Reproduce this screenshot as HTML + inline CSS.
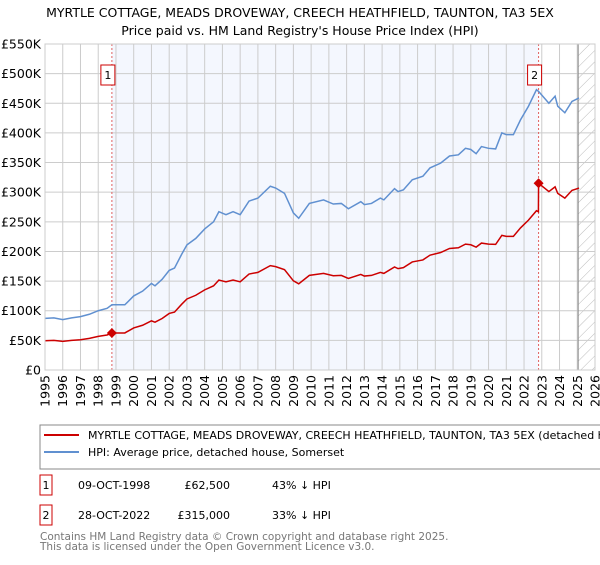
<!DOCTYPE html>
<html><head><meta charset="utf-8"><style>
body{margin:0;background:#fff;font-family:"Liberation Sans","DejaVu Sans",sans-serif;}
svg text{font-family:"DejaVu Sans","Liberation Sans",sans-serif;}
</style></head><body>
<svg id="c" width="600" height="560" xmlns="http://www.w3.org/2000/svg">
<defs><pattern id="hatch" width="8" height="8" patternUnits="userSpaceOnUse" patternTransform="rotate(45)"><line x1="0" y1="0" x2="0" y2="8" stroke="#bbb" stroke-width="1"/></pattern></defs>
<text x="300" y="17" text-anchor="middle" font-size="12.5">MYRTLE COTTAGE, MEADS DROVEWAY, CREECH HEATHFIELD, TAUNTON, TA3 5EX</text>
<text x="300" y="35" text-anchor="middle" font-size="12.5">Price paid vs. HM Land Registry's House Price Index (HPI)</text>
<g id="plot"></g>
<rect x="40" y="425" width="570" height="44" fill="#fff" stroke="#888"/>
<line x1="44" y1="435" x2="79" y2="435" stroke="#cc0000" stroke-width="2"/>
<text x="88" y="439" font-size="11">MYRTLE COTTAGE, MEADS DROVEWAY, CREECH HEATHFIELD, TAUNTON, TA3 5EX (detached house)</text>
<line x1="44" y1="452" x2="79" y2="452" stroke="#6090d0" stroke-width="2"/>
<text x="88" y="456" font-size="11">HPI: Average price, detached house, Somerset</text>
<rect x="40" y="475" width="12" height="20" fill="#fff" stroke="#cc0000"/>
<text x="46" y="489" text-anchor="middle" font-size="11">1</text>
<text x="78" y="489" font-size="11">09-OCT-1998</text>
<text x="230" y="489" text-anchor="end" font-size="11">£62,500</text>
<text x="272" y="489" font-size="11">43% ↓ HPI</text>
<rect x="40" y="505" width="12" height="20" fill="#fff" stroke="#cc0000"/>
<text x="46" y="519" text-anchor="middle" font-size="11">2</text>
<text x="78" y="519" font-size="11">28-OCT-2022</text>
<text x="230" y="519" text-anchor="end" font-size="11">£315,000</text>
<text x="272" y="519" font-size="11">33% ↓ HPI</text>
<text x="40" y="540" font-size="10.5" fill="#777">Contains HM Land Registry data © Crown copyright and database right 2025.</text>
<text x="40" y="550" font-size="10.5" fill="#777">This data is licensed under the Open Government Licence v3.0.</text>
</svg>
<script>
const hpiYears=[1995.0,1995.5,1996.0,1996.5,1997.0,1997.5,1998.0,1998.5,1998.77,1999.5,2000.0,2000.5,2001.0,2001.2,2001.6,2002.0,2002.3,2002.7,2003.0,2003.5,2004.0,2004.5,2004.8,2005.2,2005.6,2006.0,2006.5,2007.0,2007.7,2008.0,2008.5,2009.0,2009.3,2009.9,2010.7,2011.25,2011.7,2012.1,2012.8,2013.0,2013.4,2013.9,2014.1,2014.7,2014.9,2015.2,2015.7,2016.3,2016.7,2017.3,2017.8,2018.3,2018.7,2019.0,2019.3,2019.6,2020.0,2020.4,2020.75,2021.0,2021.4,2021.8,2022.25,2022.7,2022.82,2023.4,2023.75,2023.9,2024.3,2024.7,2025.1];
const hpiValues=[87,88,85,88,90,94,100,104,110,110,125,133,146,142,153,168,172,195,211,222,238,250,267,262,267,262,285,290,310,307,298,265,256,281,287,280,281,272,284,279,281,290,287,306,301,304,321,327,341,349,361,363,374,372,365,377,374,373,400,397,397,422,445,473,470,450,462,445,434,453,459];
const redYears=[1995.0,1995.5,1996.0,1996.5,1997.0,1997.5,1998.0,1998.5,1998.77,1999.5,2000.0,2000.5,2001.0,2001.2,2001.6,2002.0,2002.3,2002.7,2003.0,2003.5,2004.0,2004.5,2004.8,2005.2,2005.6,2006.0,2006.5,2007.0,2007.7,2008.0,2008.5,2009.0,2009.3,2009.9,2010.7,2011.25,2011.7,2012.1,2012.8,2013.0,2013.4,2013.9,2014.1,2014.7,2014.9,2015.2,2015.7,2016.3,2016.7,2017.3,2017.8,2018.3,2018.7,2019.0,2019.3,2019.6,2020.0,2020.4,2020.75,2021.0,2021.4,2021.8,2022.25,2022.7,2022.81,2022.82,2023.4,2023.75,2023.9,2024.3,2024.7,2025.1];
const redValues=[49.4,50,48.3,50,51.1,53.4,56.8,59.1,62.5,62.5,71,75.5,82.9,80.7,86.9,95.4,97.7,110.8,119.8,126.1,135.2,142,151.7,148.8,151.7,148.8,161.9,164.7,176.1,174.4,169.3,150.5,145.4,159.6,163,159,159.6,154.5,161.3,158.5,159.6,164.7,163,173.8,171,172.7,182.3,185.7,193.7,198.2,205,206.2,212.4,211.3,207.3,214.1,212.4,211.9,227.2,225.5,225.5,239.7,252.8,268.7,267,315,301,309,298,290,303,307];
const saleYears=[1998.77,2022.82];
const salePrices=[62.5,315];
const saleLabels=["1","2"];
const yTicks=[0,50,100,150,200,250,300,350,400,450,500,550];
const yTickLabels=["£0","£50K","£100K","£150K","£200K","£250K","£300K","£350K","£400K","£450K","£500K","£550K"];
const xTicks=[1995,1996,1997,1998,1999,2000,2001,2002,2003,2004,2005,2006,2007,2008,2009,2010,2011,2012,2013,2014,2015,2016,2017,2018,2019,2020,2021,2022,2023,2024,2025,2026];
const forecastStart=2025.05;

const L=45,R=595,T=44,B=370;
const xs=y=>L+(y-1995)/31*(R-L);
const ys=v=>B-v/550*(B-T);
const NS="http://www.w3.org/2000/svg";
const g=document.getElementById('plot');
function mk(tag,at){const e=document.createElementNS(NS,tag);for(const k in at)e.setAttribute(k,at[k]);g.appendChild(e);return e;}
let e;
e=mk('rect',{x:L,y:T,width:R-L,height:B-T,fill:'#fff'});


e=mk('rect',{x:xs(saleYears[0]),y:T,width:xs(saleYears[1])-xs(saleYears[0]),height:B-T,fill:'#f4f7fe'});


e=mk('rect',{x:xs(forecastStart),y:T,width:R-xs(forecastStart),height:B-T,fill:'url(#hatch)'});


yTicks.forEach((v,i)=>{
 e=mk('line',{x1:L,x2:R,y1:ys(v),y2:ys(v),stroke:'#ccc','stroke-width':1});
 
 
 e=mk('text',{x:41,y:ys(v)+4.5,'text-anchor':'end','font-size':12.5});
 e.textContent=yTickLabels[i];
 
 
});
xTicks.forEach(y=>{
 e=mk('line',{x1:xs(y),x2:xs(y),y1:T,y2:B,stroke:'#ccc','stroke-width':1});
 
 
 e=mk('text',{x:0,y:0,'text-anchor':'end','font-size':12.5,transform:`translate(${xs(y)+4.5},375) rotate(-90)`});
 e.textContent=y;
 
 
});
e=mk('line',{x1:xs(forecastStart),x2:xs(forecastStart),y1:T,y2:B,stroke:'#888','stroke-width':1});


saleYears.forEach((y,i)=>{
 e=mk('line',{x1:xs(y),x2:xs(y),y1:T,y2:B,stroke:'#e06060','stroke-width':1,'stroke-dasharray':'2,2'});
 
 
});
e=mk('polyline',{points:hpiYears.map((y,i)=>xs(y)+','+ys(hpiValues[i])).join(' '),fill:'none',stroke:'#6090d0','stroke-width':1.5});


e=mk('polyline',{points:redYears.map((y,i)=>xs(y)+','+ys(redValues[i])).join(' '),fill:'none',stroke:'#cc0000','stroke-width':1.5});


saleYears.forEach((y,i)=>{
 const cx=xs(y),cy=ys(salePrices[i]);
 e=mk('polygon',{points:`${cx},${cy-5} ${cx+5},${cy} ${cx},${cy+5} ${cx-5},${cy}`,fill:'#cc0000'});
 
 
 e=mk('rect',{x:cx-11,y:65,width:14,height:20,fill:'#fff',stroke:'#cc0000'});
 
 
 e=mk('text',{x:cx-4,y:79,'text-anchor':'middle','font-size':11});
 e.textContent=saleLabels[i];
 
 
});
e=mk('rect',{x:L,y:T,width:R-L,height:B-T,fill:'none',stroke:'#ccc'});


</script>
</body></html>
